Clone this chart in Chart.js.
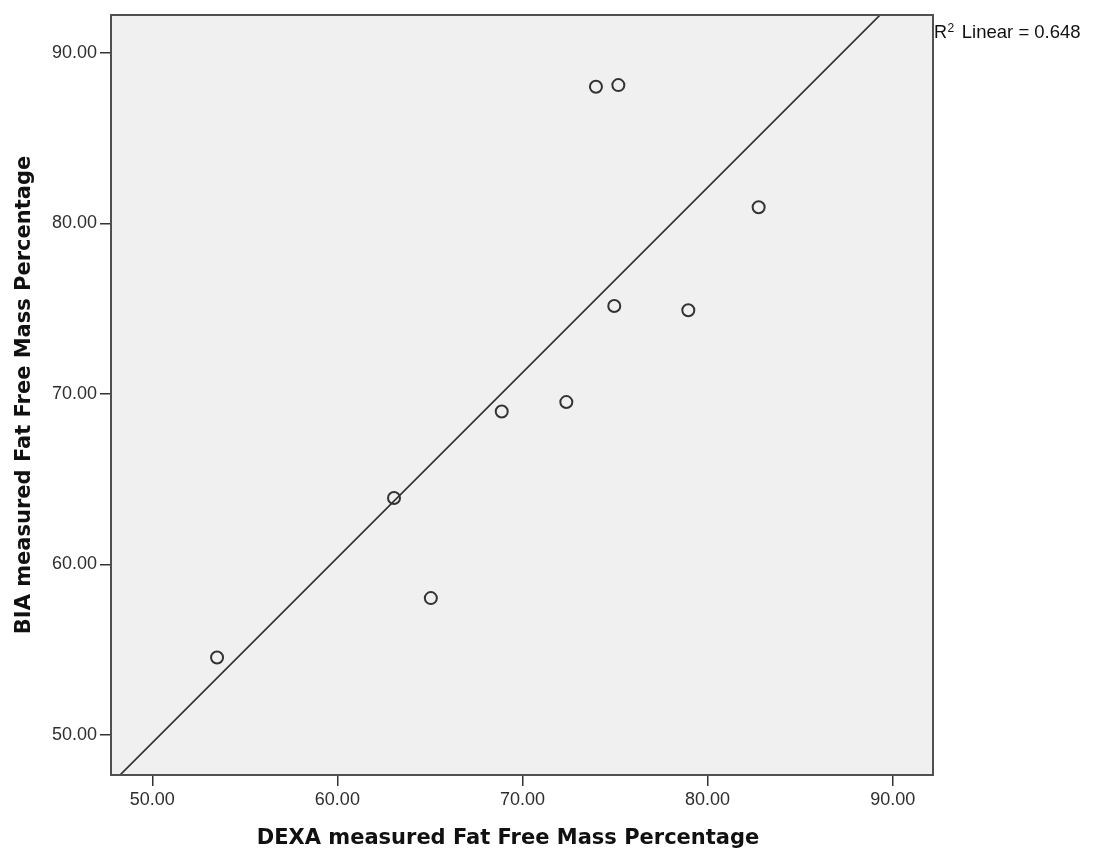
<!DOCTYPE html>
<html>
<head>
<meta charset="utf-8">
<title>DEXA vs BIA Fat Free Mass Percentage</title>
<script src="https://cdn.jsdelivr.net/npm/chart.js@4/dist/chart.umd.min.js"></script>
<style>
  html, body { margin: 0; padding: 0; background: #ffffff; }
  #wrap { width: 1096px; height: 853px; position: relative; }
</style>
</head>
<body>
<div id="wrap"><canvas id="chart" width="1096" height="853"></canvas></div>
<script>
// Fat free mass percentage per subject, as measured by each method
const dexaValues = [53.50, 63.06, 65.05, 68.88, 72.37, 73.97, 75.18, 74.96, 78.96, 82.76];
const biaValues  = [54.55, 63.90, 58.03, 68.97, 69.52, 88.00, 88.10, 75.15, 74.90, 80.94];

// Linear fit line (BIA = slope * DEXA + intercept) and its R²
const fitSlope = 1.085;
const fitIntercept = -4.70;
const fitR2 = '0.648';

// Axis ranges and tick values
const xRange = [47.77, 92.18];
const yRange = [47.66, 92.21];
const xTicks = [50, 60, 70, 80, 90];
const yTicks = [50, 60, 70, 80, 90];

const xTitle = 'DEXA measured Fat Free Mass Percentage';
const yTitle = 'BIA measured Fat Free Mass Percentage';

const points = dexaValues.map((x, i) => ({ x: x, y: biaValues[i] }));
const fitLine = xRange.map(x => ({ x: x, y: fitSlope * x + fitIntercept }));

const titleFontCss = 'bold 21px "DejaVu Sans", Verdana, sans-serif';

// Grey plot panel behind the data, framed on all four sides
const panelPlugin = {
  id: 'panel',
  beforeDatasetsDraw(chart) {
    const { ctx, chartArea: a } = chart;
    ctx.save();
    ctx.fillStyle = '#f0f0f0';
    ctx.fillRect(a.left, a.top, a.right - a.left, a.bottom - a.top);
    ctx.restore();
  },
  afterDatasetsDraw(chart) {
    const { ctx, chartArea: a } = chart;
    ctx.save();
    ctx.strokeStyle = '#505050';
    ctx.lineWidth = 2;
    ctx.strokeRect(a.left, a.top, a.right - a.left, a.bottom - a.top);
    ctx.restore();
  }
};

// Horizontal axis title and the "R² Linear = ..." note
const labelPlugin = {
  id: 'labels',
  afterDraw(chart) {
    const { ctx, chartArea: a } = chart;
    ctx.save();
    ctx.fillStyle = '#111111';

    // axis title under the tick labels
    ctx.font = titleFontCss;
    ctx.textAlign = 'center';
    ctx.textBaseline = 'middle';
    ctx.fillText(xTitle, (a.left + a.right) / 2 - 14, chart.height - 14);

    // R² note beside the top right corner of the panel
    const x0 = a.right + 1;
    const base = a.top + 23;
    ctx.textBaseline = 'alphabetic';
    ctx.textAlign = 'left';
    ctx.font = '18px "Liberation Sans", Arial, sans-serif';
    ctx.fillText('R', x0, base);
    const rw = ctx.measureText('R').width;
    ctx.font = '12px "Liberation Sans", Arial, sans-serif';
    ctx.fillText('2', x0 + rw + 0.5, base - 6);
    const sw = ctx.measureText('2').width;
    ctx.font = '18.5px "Liberation Sans", Arial, sans-serif';
    ctx.fillText(' Linear = ' + fitR2, x0 + rw + sw + 3, base);
    ctx.restore();
  }
};

const tickFont = { family: '"Liberation Sans", Arial, sans-serif', size: 18 };
const titleFont = { family: '"DejaVu Sans", Verdana, sans-serif', size: 21, weight: 'bold', lineHeight: 1 };

new Chart(document.getElementById('chart'), {
  data: {
    datasets: [
      {
        type: 'line',
        data: fitLine,
        borderColor: '#2b2b2b',
        borderWidth: 1.6,
        pointRadius: 0,
        fill: false,
        order: 2
      },
      {
        type: 'scatter',
        data: points,
        pointStyle: 'circle',
        pointRadius: 6,
        pointHoverRadius: 6,
        pointBorderWidth: 2,
        borderColor: '#333333',
        backgroundColor: 'rgba(0,0,0,0)',
        order: 1
      }
    ]
  },
  options: {
    responsive: false,
    animation: false,
    events: [],
    layout: { padding: { top: 15, right: 163, left: 0, bottom: 0 } },
    plugins: {
      legend: { display: false },
      tooltip: { enabled: false }
    },
    scales: {
      x: {
        type: 'linear',
        position: 'bottom',
        min: xRange[0],
        max: xRange[1],
        afterBuildTicks(scale) { scale.ticks = xTicks.map(v => ({ value: v })); },
        afterFit(scale) { scale.height = 78; },
        border: { display: false },
        grid: { drawOnChartArea: false, drawTicks: true, tickLength: 11, color: '#333333', lineWidth: 1.5 },
        ticks: {
          padding: 3,
          color: '#2e2e2e',
          font: tickFont,
          maxRotation: 0,
          callback: v => Number(v).toFixed(2)
        },
        title: { display: false }
      },
      y: {
        type: 'linear',
        position: 'left',
        min: yRange[0],
        max: yRange[1],
        afterBuildTicks(scale) { scale.ticks = yTicks.map(v => ({ value: v })); },
        afterFit(scale) { scale.width = 111; },
        border: { display: false },
        grid: { drawOnChartArea: false, drawTicks: true, tickLength: 11, color: '#333333', lineWidth: 1.5 },
        ticks: {
          padding: 3,
          color: '#2e2e2e',
          font: tickFont,
          callback: v => Number(v).toFixed(2)
        },
        title: { display: true, text: yTitle, color: '#111111', font: titleFont, padding: { top: 14, bottom: 0 } }
      }
    }
  },
  plugins: [panelPlugin, labelPlugin]
});
</script>
</body>
</html>
